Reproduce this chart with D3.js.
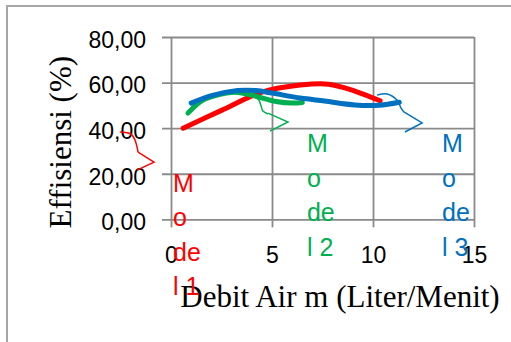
<!DOCTYPE html>
<html><head><meta charset="utf-8">
<script src="https://cdn.jsdelivr.net/npm/d3@7"></script>
<style>html,body{margin:0;padding:0;background:#fff;overflow:hidden}</style>
</head><body><svg id="c" width="511" height="342"></svg>
<script>
// ---- data ----
const xTicks = [0, 5, 10, 15];
const yTicks = [0, 20, 40, 60, 80];
const seriesNames = ["Model 1", "Model 2", "Model 3"];
const seriesColors = ["#ff0000", "#00b050", "#0070c0"];
const model1X = [0.6, 2.5, 4.5, 6.4, 7.8, 9.1, 10.35];
const model1Y = [40, 47.8, 55.8, 58.9, 59.3, 56.3, 52];
const model2X = [0.84, 1.5, 2.2, 3.2, 4.2, 5.2, 6.0, 6.5];
const model2Y = [46.6, 51.9, 54.3, 55.8, 54, 51.7, 51, 51.3];
const model3X = [1.0, 2.0, 3.3, 4.2, 5.0, 6.4, 7.6, 9.1, 10.3, 11.3];
const model3Y = [51, 54.3, 56.5, 56.5, 55.4, 53.2, 51.9, 50.2, 50.1, 51.4];
const yTitle = "Effisiensi (%)";
const xTitle = "Debit Air m (Liter/Menit)";
// label lines (wrapped as in original) and anchors in data units
const labelLines = [["M", "o", "de", "l 1"], ["M", "o", "de", "l 2"], ["M", "o", "de", "l 3"]];
const labelAnchorX = [0.1, 6.73, 13.42];
const labelAnchorY = [12, 29.5, 29.5];
// callout leaders (data units)
const leaderX = [[-2.52, -1.98, -1.78, -1.63], [3.71, 4.31, 4.46, 4.55, 4.8], [10.2, 10.7, 11.2, 11.39, 11.53]];
const leaderY = [[38.3, 37.4, 34.7, 29.5], [55.4, 52.8, 49.7, 47.5, 46.2], [54.5, 55.0, 52.2, 48.8, 47.1]];
const chevronX = [[-1.63, -0.84, -1.68], [4.8, 5.79, 4.9], [11.53, 12.43, 11.58]];
const chevronY = [[29.5, 25.1, 21.6], [46.6, 42.7, 38.7], [47.1, 42.3, 38.3]];

const svg = d3.select("#c");
const L = 171, R = 474, T = 37, B = 219.3;
const x = d3.scaleLinear().domain([0, 15]).range([L, R]);
const y = d3.scaleLinear().domain([0, 80]).range([B, T]);
const gridColor = "#8a8a8a";

// outer border
svg.append("rect").attr("x", 7).attr("y", 6).attr("width", 530).attr("height", 360)
  .attr("fill", "none").attr("stroke", "#a6a6a6").attr("stroke-width", 2);

// grid / axes
const yAxis = d3.axisLeft(y).tickValues(yTicks).tickSize(-(R - L)).tickPadding(0)
  .tickFormat(d => d3.format(".2f")(d).replace(".", ","));
const gy = svg.append("g").attr("transform", `translate(${L},0)`).call(yAxis);
gy.select(".domain").remove();
gy.selectAll(".tick line").attr("x1", -9).attr("stroke", gridColor).attr("stroke-width", 1.8);
gy.selectAll(".tick text").attr("x", -25).attr("dy", "0.36em").attr("y", 2)
  .attr("font-family", "Liberation Sans, Arial, sans-serif").attr("font-size", 23).attr("fill", "#000");

const xAxis = d3.axisBottom(x).tickValues(xTicks).tickSize(-(B - T)).tickFormat(d3.format("d"));
const gx = svg.append("g").attr("transform", `translate(0,${B})`).call(xAxis);
gx.select(".domain").remove();
gx.selectAll(".tick line").attr("y1", 8).attr("stroke", gridColor).attr("stroke-width", 1.8);
gx.selectAll(".tick text").attr("y", 44).attr("dy", 0)
  .attr("font-family", "Liberation Sans, Arial, sans-serif").attr("font-size", 23).attr("fill", "#000");

// axis titles
svg.append("text").attr("transform", `translate(71,${(T + B) / 2 + 14}) rotate(-90)`)
  .attr("text-anchor", "middle").attr("font-family", "Liberation Serif, Times New Roman, serif")
  .attr("font-size", 31).text(yTitle);
svg.append("text").attr("x", 340).attr("y", 307).attr("text-anchor", "middle")
  .attr("font-family", "Liberation Serif, Times New Roman, serif").attr("font-size", 31).text(xTitle);

// series
const xs = [model1X, model2X, model3X], ys = [model1Y, model2Y, model3Y];
const line = d3.line().x(d => x(d[0])).y(d => y(d[1])).curve(d3.curveCatmullRom.alpha(0.5));
seriesNames.forEach((n, i) => {
  const pts = xs[i].map((v, j) => [v, ys[i][j]]);
  svg.append("path").attr("d", line(pts)).attr("fill", "none")
    .attr("stroke", seriesColors[i]).attr("stroke-width", 5).attr("stroke-linecap", "round");
});

// callouts
const thin = d3.line().x(d => x(d[0])).y(d => y(d[1])).curve(d3.curveCatmullRom);
const straight = d3.line().x(d => x(d[0])).y(d => y(d[1]));
seriesNames.forEach((n, i) => {
  const lp = leaderX[i].map((v, j) => [v, leaderY[i][j]]);
  const cp = chevronX[i].map((v, j) => [v, chevronY[i][j]]);
  svg.append("path").attr("d", thin(lp)).attr("fill", "none").attr("stroke", seriesColors[i]).attr("stroke-width", 1.5);
  svg.append("path").attr("d", straight(cp)).attr("fill", "none").attr("stroke", seriesColors[i]).attr("stroke-width", 1.5);
  const t = svg.append("text").attr("font-family", "Liberation Sans, Arial, sans-serif").attr("font-size", 25)
    .attr("fill", seriesColors[i]);
  labelLines[i].forEach((s, k) => {
    t.append("tspan").attr("x", x(labelAnchorX[i])).attr("y", y(labelAnchorY[i]) + k * 34.5).text(s);
  });
});
</script></body></html>
